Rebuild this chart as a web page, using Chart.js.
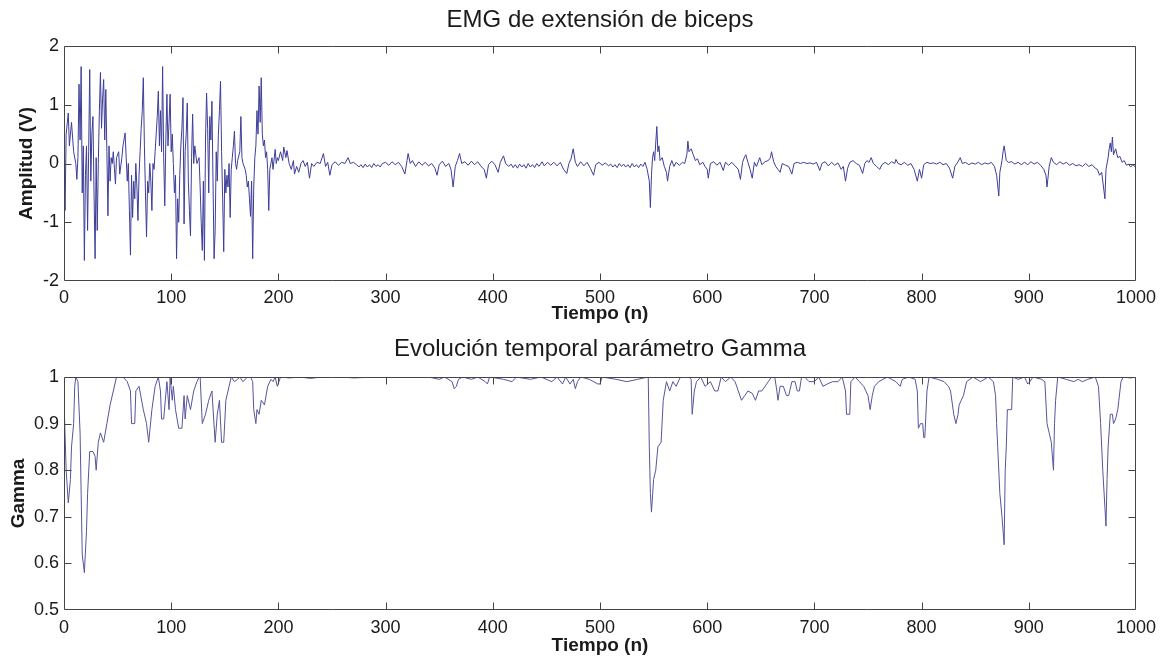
<!DOCTYPE html>
<html>
<head>
<meta charset="utf-8">
<script src="https://cdn.jsdelivr.net/npm/chart.js@4.4.1/dist/chart.umd.min.js"></script>
<style>
  html, body { margin: 0; padding: 0; background: #fff; }
  #wrap { position: relative; width: 1165px; height: 662px; }
  canvas { position: absolute; left: 0; }
  #emgChart { top: 0; }
  #gammaChart { top: 331px; }
</style>
</head>
<body>
<div id="wrap">
  <canvas id="emgChart" width="1165" height="331"></canvas>
  <canvas id="gammaChart" width="1165" height="331"></canvas>
</div>
<script>
// EMG signal (sample n, amplitude V)
var emgT = [0,1,2,4,5,7,9,11,12,13,14,15,16,17,18,19,20,21,22,23,24,25,26,27,28,29,30,31,32,33,34,35,36,37,38,39,40,41,42,43,44,45,46,48,49,51,52,54,55,57,58,59,60,61,62,63,64,65,66,67,68,69,70,71,72,73,74,75,76,77,78,79,80,81,82,83,84,85,86,87,88,89,90,91,92,93,94,95,96,97,98,99,
  100,101,102,103,104,105,106,107,108,109,110,111,112,113,114,115,116,117,118,119,120,121,122,124,126,127,128,129,130,131,132,133,134,135,136,137,138,139,140,141,142,143,144,145,146,147,148,149,150,151,152,153,154,155,156,157,158,159,160,161,162,164,165,166,167,169,170,171,172,173,174,175,176,177,178,179,180,181,182,183,184,185,186,187,188,189,190,191,192,193,194,195,197,198,199,
  200,202,204,205,207,208,210,212,214,215,217,219,221,223,225,227,229,231,233,236,239,242,244,246,248,250,253,256,259,262,265,267,270,273,275,277,279,281,283,285,287,289,291,293,295,297,
  300,303,306,309,312,315,318,320,321,323,325,328,331,334,337,340,343,346,348,350,353,356,359,361,363,365,367,369,371,374,377,380,383,386,389,392,394,396,399,
  402,405,407,410,412,415,417,419,421,423,425,427,429,431,433,435,437,439,441,443,446,448,451,454,457,460,463,466,469,471,473,475,477,479,482,485,488,491,494,496,499,
  502,505,508,510,512,514,516,518,520,522,524,526,528,530,532,534,536,538,540,542,544,546,547,548,549,550,551,552,553,554,555,556,558,560,562,563,565,567,569,571,574,577,579,581,582,583,585,587,589,591,593,596,598,
  600,601,603,606,609,612,615,617,620,623,626,629,631,633,635,636,638,640,642,644,646,649,651,654,657,659,660,662,664,666,668,670,673,676,679,681,684,687,690,693,696,699,
  702,705,707,710,713,716,719,722,725,727,729,731,733,736,739,742,745,747,749,751,753,755,758,761,763,766,769,772,775,776,778,781,784,787,790,793,796,798,
  800,802,805,808,811,814,817,820,823,826,829,831,834,836,838,841,844,847,850,853,856,859,862,865,868,870,872,873,875,876,877,879,881,884,887,890,893,896,899,
  902,905,908,911,914,916,917,919,921,923,926,929,932,935,938,941,944,947,950,953,956,959,962,964,966,968,970,971,972,974,975,976,977,978,979,981,983,985,987,989,991,993,995,997,999,1000];
var emgV = [0.3,-0.8,0.5,0.86,0.3,0.7,0.2,0,-0.27,0.1,1.35,0.4,1.65,-0.5,0.3,-1.65,-0.2,0.3,-1.14,0.2,1.6,-0.3,0.5,0.8,-0.5,-1.62,0.1,-1.14,0,0.9,1.55,0.6,1.1,1.43,0.4,1.26,0.2,-0.89,0.3,-0.3,0.1,0,0.2,-0.35,0.1,0.2,-0.18,0.1,0.3,0.52,0.1,-0.3,0,-0.8,-1.56,-0.2,-0.92,-0.3,-0.6,0,-0.4,-0.97,-0.2,0.2,0.6,0.9,1.46,0.3,-0.5,-1.25,-0.3,-0.5,0,-0.3,-0.8,0,-0.1,0.2,0.5,0.8,1.23,0.3,0.9,0.2,1.65,0.1,-0.72,0.4,1.18,0.3,0.7,1.18,
  0.2,0.5,0,-0.5,-0.2,-1.62,-0.6,-1.0,-0.2,0.3,0.6,1.12,-1.03,0.2,0.5,1.03,-0.3,-0.8,-1.23,0.1,0.84,0,0.3,0,0.1,-0.4,-1.0,-1.48,-0.3,-1.65,0.4,1.2,0.6,-0.5,0.8,0.4,1.06,-0.3,-1.62,-1.14,0.2,-0.3,0.5,0.9,1.4,0.2,-0.6,-1.5,-0.1,-0.5,-0.2,-0.4,0,-0.92,-0.1,0.1,0.3,0.55,0,-0.1,0.05,0.2,0.8,0.1,0,-0.1,-0.2,-0.4,-0.3,-0.6,-0.9,-0.3,-1.62,-0.4,0.1,0.3,0.9,0.5,1.32,0.7,1.46,0.5,0.3,0.4,0.1,0.2,-0.1,-0.8,-0.1,0,0.1,-0.1,0.24,0,0.1,
  0.05,0.2,0.05,0.28,0.1,0.22,0,-0.1,0.05,-0.18,-0.05,-0.15,0,0.05,-0.05,0.02,-0.25,0,-0.05,0.02,0,0.17,-0.05,0.02,-0.2,-0.02,0.03,-0.03,0.02,0,0.1,0,0.02,-0.02,-0.06,-0.02,-0.07,-0.01,-0.06,-0.02,-0.07,0,-0.05,-0.02,-0.06,0,
  0.02,-0.03,0.03,-0.02,0.02,-0.05,-0.18,0.05,0.17,0,0.05,-0.05,0.03,-0.03,0.02,-0.04,0,-0.08,-0.2,-0.02,0.04,-0.05,0,-0.1,-0.4,-0.05,0.05,0.17,0,0.03,-0.03,0.04,-0.02,0.03,-0.05,-0.1,-0.25,-0.02,0.04,
  -0.02,-0.15,0.02,0.13,0,-0.05,-0.01,-0.07,-0.02,-0.08,-0.01,-0.06,-0.02,-0.08,0,-0.06,-0.02,-0.07,0,-0.05,0.03,-0.04,0.02,-0.03,0.02,-0.04,0.02,-0.1,-0.17,0,0.08,0.25,0.02,-0.05,0.03,-0.04,0.02,-0.08,-0.2,-0.02,0.02,
  -0.03,0.01,-0.04,-0.01,-0.06,-0.02,-0.07,0,-0.05,-0.01,-0.06,-0.02,-0.07,0,-0.06,-0.02,-0.07,-0.01,-0.05,0.02,-0.1,-0.3,-0.75,-0.2,0.1,0.2,0.05,0.35,0.63,0.2,0.3,0.05,0.1,-0.05,-0.15,-0.3,-0.05,0.05,-0.05,0.02,-0.03,0.02,0,0.15,0.38,0.2,0.25,0.15,0.05,0.08,-0.02,0.02,-0.05,
  -0.1,-0.25,0,0.03,-0.03,0.02,-0.12,0.02,-0.03,0.02,-0.04,-0.1,-0.27,0.02,0.12,0.15,0.02,-0.1,-0.25,0.02,-0.05,0.1,-0.02,0.03,0.05,0.1,0.2,0.03,-0.05,-0.1,-0.15,0,-0.03,-0.05,-0.18,0,0.02,0,0.02,0,0.01,-0.01,
  0.02,-0.12,0,0.03,-0.04,0.02,-0.03,0.01,-0.1,-0.05,-0.3,-0.08,0.02,0.05,0,-0.03,-0.17,0,0.05,0.02,0.1,0,-0.05,-0.1,-0.02,0.02,-0.02,0.03,0,0.07,0,-0.02,0.02,-0.03,0,-0.1,-0.3,-0.1,
  -0.25,-0.02,0.02,0,0.01,-0.01,0.02,-0.02,0,-0.08,-0.25,-0.05,0.03,0.1,0,0.02,-0.02,0.01,-0.01,0.02,-0.02,0.01,-0.01,0.02,-0.05,-0.2,-0.55,-0.15,0.05,0.2,0.3,0.05,0.02,0.03,-0.01,0.02,-0.02,0.02,-0.02,
  0.03,-0.01,0.02,-0.03,-0.1,-0.2,-0.4,-0.05,0.1,0.02,-0.02,0.03,-0.01,0.02,-0.03,0,-0.04,-0.02,-0.05,0,-0.05,-0.02,-0.08,-0.1,-0.2,-0.15,-0.45,-0.6,-0.1,0.1,0.25,0.35,0.2,0.45,0.15,0.25,0.1,0.12,0.02,0.05,-0.03,-0.01,-0.06,-0.02,-0.05,-0.03];

// Gamma parameter
var gammaT = [0,2,4,6,7,9,10,11,13,15,16,17,19,21,22,24,27,29,30,32,34,37,40,43,46,49,55,59,62,63,66,67,70,74,77,79,82,85,88,90,91,93,96,98,99,
  101,102,104,107,110,112,113,115,118,121,124,126,127,129,132,135,138,141,143,145,147,149,151,154,156,159,162,164,167,171,174,176,177,179,180,182,184,187,190,193,195,197,199,
  202,210,220,230,240,260,270,290,340,350,355,362,364,366,368,372,380,386,393,395,397,
  410,418,422,435,445,455,460,465,468,472,475,477,479,482,490,498,500,
  502,515,525,535,545,546,547,548,550,552,554,557,559,562,565,568,571,575,583,585,586,588,590,594,598,
  603,607,610,613,617,622,626,629,632,635,638,642,645,648,651,654,657,660,663,665,666,668,671,674,676,679,682,684,686,688,691,695,700,
  704,708,712,717,722,726,729,730,733,734,738,742,746,750,752,754,756,760,764,768,772,776,780,782,788,794,796,797,799,
  801,802,803,805,807,815,821,825,827,830,832,834,835,837,839,842,848,855,862,867,869,870,871,873,875,877,878,879,880,882,884,885,890,896,898,899,
  901,904,912,915,917,919,921,923,924,925,927,935,942,946,950,955,962,965,967,968,969,971,972,973,974,976,978,979,981,983,984,986,988,995,1000];
var gammaV = [0.95,0.8,0.73,0.78,0.85,0.9,0.98,1.0,0.99,0.88,0.75,0.62,0.58,0.67,0.75,0.84,0.84,0.83,0.8,0.86,0.88,0.86,0.9,0.94,0.97,1.0,1.0,0.99,0.97,0.9,0.9,0.97,0.98,0.93,0.9,0.86,0.93,0.98,1.0,0.97,0.91,0.91,0.99,0.93,1.0,
  0.95,0.98,0.93,0.89,0.89,0.96,0.91,0.96,0.93,0.97,0.99,1.0,1.0,0.9,0.92,0.95,0.97,0.86,0.92,0.95,0.86,0.86,0.95,0.98,1.0,0.99,0.995,1.0,0.99,1.0,1.0,0.99,0.93,0.9,0.93,0.92,0.95,0.94,0.98,0.995,0.99,1.0,0.98,
  1.0,0.998,1.0,0.997,1.0,1.0,0.998,1.0,1.0,0.995,1.0,0.99,0.975,0.98,0.995,1.0,0.995,1.0,0.99,0.985,1.0,
  0.995,0.99,1.0,0.995,1.0,0.99,1.0,0.985,1.0,0.985,0.995,0.975,0.99,1.0,0.995,0.985,0.985,
  1.0,0.995,0.99,0.995,1.0,0.85,0.75,0.71,0.78,0.8,0.85,0.86,0.95,0.99,0.97,0.99,0.98,1.0,1.0,0.995,0.92,0.97,0.99,1.0,0.98,
  0.99,0.97,0.97,1.0,0.99,1.0,0.99,0.97,0.95,0.96,0.97,0.965,0.95,0.97,0.97,0.98,0.99,1.0,1.0,0.97,0.95,0.98,0.98,0.96,0.96,0.99,0.99,0.97,0.97,1.0,1.0,0.99,0.99,
  1.0,0.98,0.985,0.99,0.99,1.0,0.97,0.92,0.92,0.99,1.0,0.99,0.98,0.96,0.93,0.96,0.98,0.99,0.995,1.0,0.995,0.99,0.98,0.995,1.0,0.995,0.97,0.89,0.9,
  0.9,0.87,0.87,0.97,1.0,0.995,0.99,0.98,0.97,0.92,0.9,0.92,0.94,0.95,0.96,0.99,1.0,0.99,1.0,0.99,0.96,0.9,0.85,0.75,0.7,0.64,0.8,0.85,0.93,0.93,0.93,1.0,0.995,1.0,0.99,0.985,
  0.99,1.0,0.995,0.99,0.9,0.88,0.86,0.8,0.9,0.95,1.0,0.995,0.99,0.995,0.99,0.995,1.0,0.98,0.9,0.85,0.8,0.72,0.68,0.78,0.85,0.92,0.92,0.9,0.91,0.93,0.95,0.99,1.0,0.998,1.0];

var xTicks = [0, 100, 200, 300, 400, 500, 600, 700, 800, 900, 1000];
var emgTicks = [-2, -1, 0, 1, 2];
var gammaTicks = [0.5, 0.6, 0.7, 0.8, 0.9, 1];

var textColor = '#1a1a1a';
var fontFam = '"Liberation Sans", Arial, Helvetica, sans-serif';

function pts(xs, ys) {
  return xs.map(function(x, i) { return { x: x, y: ys[i] }; });
}

// matlab style box + inward ticks, title centred over the axes box
var boxTicks = {
  id: 'boxTicks',
  afterDraw: function(chart, args, opts) {
    var c = chart.ctx, a = chart.chartArea;
    var sx = chart.scales.x, sy = chart.scales.y;
    c.save();
    c.strokeStyle = '#444';
    c.lineWidth = 1;
    c.beginPath();
    var L = Math.round(a.left) + 0.5, R = Math.round(a.right) - 0.5;
    var T = Math.round(a.top) + 0.5, B = Math.round(a.bottom) - 0.5;
    c.rect(L, T, R - L, B - T);
    sx.ticks.forEach(function(t) {
      var px = Math.round(sx.getPixelForValue(t.value)) + 0.5;
      if (px <= L + 1 || px >= R - 1) return;
      c.moveTo(px, B); c.lineTo(px, B - 7);
      c.moveTo(px, T); c.lineTo(px, T + 7);
    });
    sy.ticks.forEach(function(t) {
      var py = Math.round(sy.getPixelForValue(t.value)) + 0.5;
      if (py <= T + 1 || py >= B - 1) return;
      c.moveTo(L, py); c.lineTo(L + 7, py);
      c.moveTo(R, py); c.lineTo(R - 7, py);
    });
    c.stroke();

    if (opts.text) {
      c.fillStyle = textColor;
      c.font = '24px ' + fontFam;
      c.textAlign = 'center';
      c.textBaseline = 'middle';
      c.fillText(opts.text, (a.left + a.right) / 2, opts.y);
    }
    c.restore();
  }
};

function makeChart(id, title, titleY, xs, ys, yTicks, yTitle, yTitlePad, xHeight, xTickPad, xTitlePad, color) {
  return new Chart(document.getElementById(id), {
    type: 'line',
    data: {
      datasets: [{
        data: pts(xs, ys),
        borderColor: color,
        borderWidth: 1,
        pointRadius: 0,
        tension: 0,
        fill: false
      }]
    },
    options: {
      responsive: false,
      animation: false,
      events: [],
      layout: { padding: { left: 0, right: 29, top: 46, bottom: 0 } },
      plugins: {
        legend: { display: false },
        tooltip: { enabled: false },
        title: { display: false },
        boxTicks: { text: title, y: titleY }
      },
      scales: {
        x: {
          type: 'linear',
          min: 0, max: 1000,
          afterBuildTicks: function(s) { s.ticks = xTicks.map(function(v) { return { value: v }; }); },
          afterFit: function(s) { s.height = xHeight; },
          grid: { display: false, drawTicks: false },
          border: { display: false },
          ticks: {
            color: textColor, padding: xTickPad, maxRotation: 0, autoSkip: false,
            font: { family: fontFam, size: 18 },
            callback: function(v) { return String(v); }
          },
          title: {
            display: true, text: 'Tiempo (n)', color: textColor,
            font: { family: fontFam, size: 19, weight: 'bold' },
            padding: { top: 0, bottom: xTitlePad }
          }
        },
        y: {
          min: yTicks[0], max: yTicks[yTicks.length - 1],
          afterBuildTicks: function(s) { s.ticks = yTicks.map(function(v) { return { value: v }; }); },
          afterFit: function(s) { s.width = 64; },
          grid: { display: false, drawTicks: false },
          border: { display: false },
          ticks: {
            color: textColor, padding: 5, autoSkip: false,
            font: { family: fontFam, size: 18 },
            callback: function(v) { return String(+v.toFixed(2)); }
          },
          title: {
            display: true, text: yTitle, color: textColor,
            font: { family: fontFam, size: 19, weight: 'bold' },
            padding: { top: yTitlePad, bottom: 0 }
          }
        }
      }
    },
    plugins: [boxTicks]
  });
}

var emgChart = makeChart('emgChart', 'EMG de extensión de biceps', 20, emgT, emgV, emgTicks,
  'Amplitud (V)', 15, 50, 6, 5.6, '#3d3d98');
var gammaChart = makeChart('gammaChart', 'Evolución temporal parámetro Gamma', 18, gammaT, gammaV, gammaTicks,
  'Gamma', 7, 52, 7, 4.6, '#55559a');
</script>
</body>
</html>
